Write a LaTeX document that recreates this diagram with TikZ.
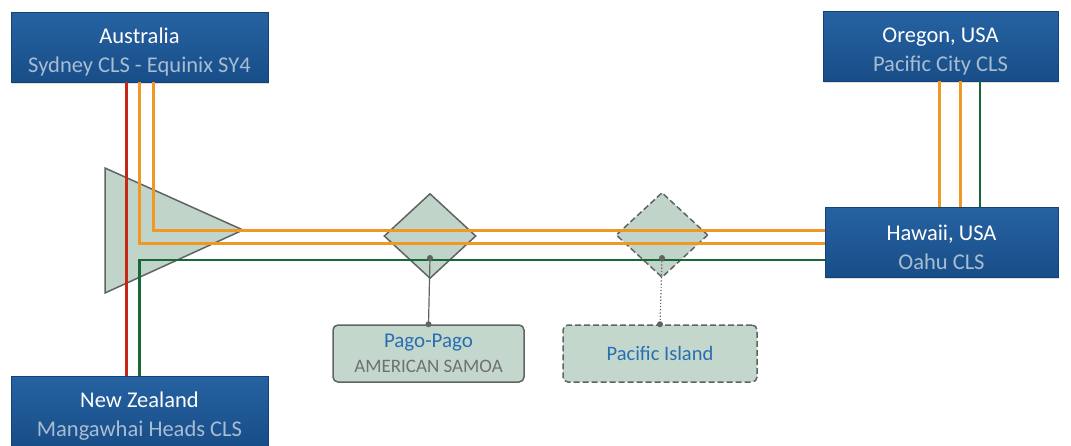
\documentclass[tikz,border=0pt]{standalone}
\usepackage{fontspec}
\setmainfont{Carlito}
\usetikzlibrary{shapes.geometric,shadows}

\definecolor{boxblue}{RGB}{24,78,136}
\definecolor{boxtop}{RGB}{38,98,162}
\definecolor{subtxt}{RGB}{168,188,210}
\definecolor{edgegray}{RGB}{95,100,98}
\definecolor{bufill}{RGB}{192,212,202}
\definecolor{stnfill}{RGB}{196,215,205}
\definecolor{txtblue}{RGB}{40,110,178}
\definecolor{txtgray}{RGB}{112,112,112}
\definecolor{orng}{RGB}{240,152,36}
\definecolor{redl}{RGB}{196,40,22}
\definecolor{grn}{RGB}{24,104,54}

% two-line text of a landing station
\newcommand{\loctxt}[2]{\rule{0pt}{26pt}#1\\{\color{subtxt}#2}}

\begin{document}
\begin{tikzpicture}[x=1pt, y=-1pt,
        loc/.style={rectangle, draw=boxblue!85!black, top color=boxtop, bottom color=boxblue, text=white, align=center, inner sep=0, minimum width=257pt, minimum height=70pt, font=\fontsize{22.5}{29}\selectfont, drop shadow={shadow xshift=1pt, shadow yshift=-2pt, opacity=.25}},
        bu/.style={diamond, draw=edgegray, fill=bufill, line width=1.5pt, inner sep=0, minimum width=92pt, minimum height=85pt},
        stn/.style={rectangle, rounded corners=5pt, draw=edgegray, fill=stnfill, line width=1.5pt, align=center, inner sep=0, minimum height=57pt},
        dot/.style={circle, fill=edgegray, inner sep=0, minimum size=6pt},
        orl/.style={orng, line width=3pt},
        rdl/.style={redl, line width=3pt},
        gnl/.style={grn, line width=2.6pt},
    ]
    \useasboundingbox (0,0) rectangle (1071,445);

    % branching unit and the two island stations
    \draw[edgegray, fill=bufill, line width=1.5pt] (105,168) -- (243,230) -- (105,293) -- cycle;
    \node[bu] (bu1) at (430,236) {};
    \node[bu, dashed, dash pattern=on 6pt off 3pt] (bu2) at (662,235) {};

    % landing stations
    \node[loc] (aus) at (139.5,47) {\loctxt{Australia}{Sydney CLS - Equinix SY4}};
    \node[loc] (nz) at (139.5,411) {\loctxt{New Zealand}{Mangawhai Heads CLS}};
    \node[loc, minimum width=235pt] (oregon) at (940.5,46) {\loctxt{Oregon, USA}{Pacific City CLS}};
    \node[loc, minimum width=233pt] (hawaii) at (941.5,242) {\loctxt{Hawaii, USA}{Oahu CLS}};

    \node[stn, minimum width=191pt, text=txtblue, font=\fontsize{21}{25}\selectfont] (pago) at (428.5,353.5) {Pago-Pago\\[0pt]{\color{txtgray}\fontsize{19}{23}\selectfont AMERICAN SAMOA}};
    \node[stn, minimum width=194pt, text=txtblue, font=\fontsize{20.5}{25}\selectfont, dashed, dash pattern=on 6pt off 3pt] (pisl) at (660,353.5) {Pacific Island};

    % fibre pairs
    \draw[orl] ([xshift=14pt]aus.south) |- (hawaii.west |- 0,230);
    \draw[orl] (aus.south) |- (hawaii.west |- 0,243);
    \draw[rdl] ([xshift=-13pt]aus.south) -- ([xshift=-13pt]nz.north);
    \draw[gnl] (nz.north) |- (hawaii.west |- 0,260);

    \draw[orl] ([xshift=-1.5pt]oregon.south) -- ([xshift=-1.5pt]oregon.south |- hawaii.north);
    \draw[orl] ([xshift=19.5pt]oregon.south) -- ([xshift=19.5pt]oregon.south |- hawaii.north);
    \draw[gnl] ([xshift=39.5pt]oregon.south) -- ([xshift=39.5pt]oregon.south |- hawaii.north);

    % spurs
    \coordinate (j1) at (bu1.center |- 0,258);
    \coordinate (j2) at (bu2.center |- 0,258);
    \draw[edgegray, line width=1.2pt] (j1) -- (pago.north);
    \draw[edgegray, line width=1.2pt, dotted] (j2) -- (pisl.north);
    \node[dot] at (j1) {};
    \node[dot] at (pago.north) {};
    \node[dot] at (j2) {};
    \node[dot] at (pisl.north) {};
\end{tikzpicture}
\end{document}
